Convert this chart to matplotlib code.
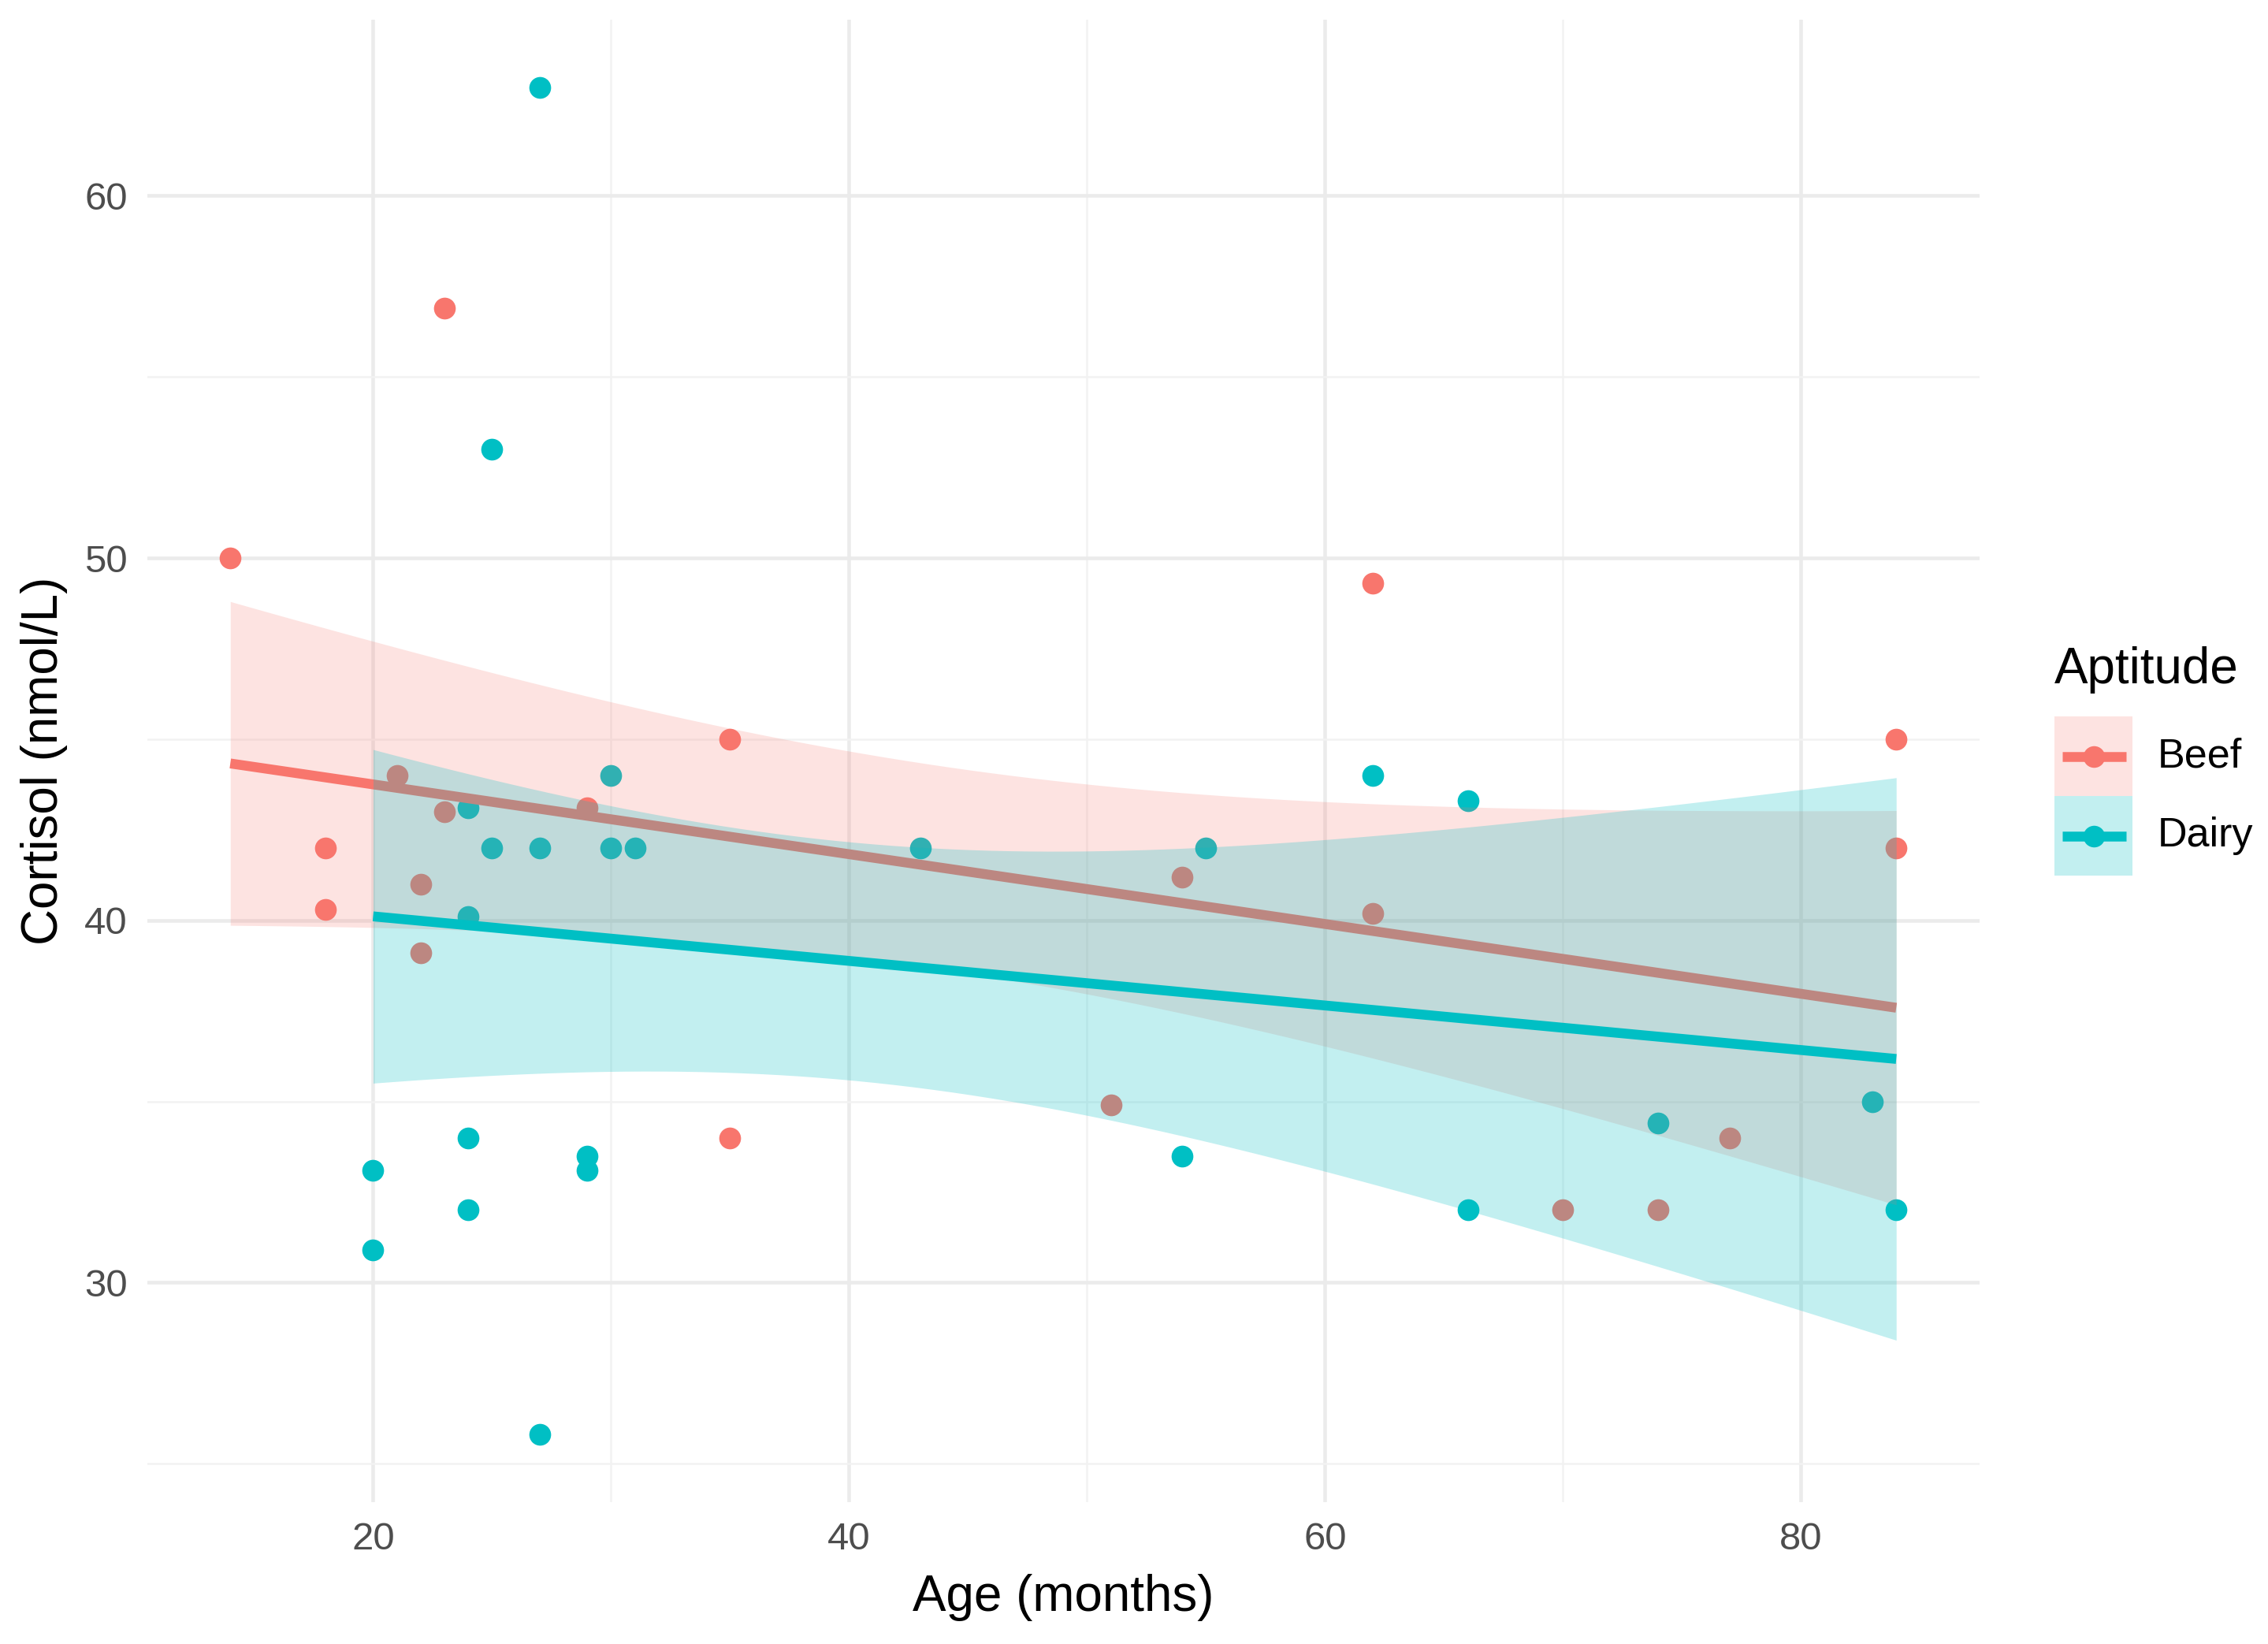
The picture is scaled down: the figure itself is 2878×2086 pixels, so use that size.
import numpy as np
import matplotlib
matplotlib.use("Agg")
import matplotlib.pyplot as plt
from matplotlib.patches import Rectangle
from matplotlib.lines import Line2D

plt.rcParams['font.family'] = ['Liberation Sans', 'DejaVu Sans']

# data
beef_age = [14, 23, 18, 18, 21, 23, 22, 22, 29, 35, 35, 51, 54, 62, 62, 70, 74, 77, 84, 84]
beef_cortisol = [50, 56.9, 42, 40.3, 44, 43, 41, 39.1, 43.1, 45, 34, 34.9, 41.2, 49.3, 40.2,
                 32, 32, 34, 45, 42]
dairy_age = [27, 25, 24, 25, 27, 30, 30, 31, 24, 20, 20, 24, 24, 29, 29, 27, 43, 55, 54, 62,
             66, 66, 74, 83, 84]
dairy_cortisol = [63, 53, 43.1, 42, 42, 44, 42, 42, 40.1, 33.1, 30.9, 34, 32, 33.5, 33.1, 25.8,
                  42, 42, 33.5, 44, 43.3, 32, 34.4, 35, 32]

groups = ["Beef", "Dairy"]
colors = {"Beef": "#F8766D", "Dairy": "#00BFC4"}
band_alpha = {"Beef": 0.2, "Dairy": 0.24}
x_ticks = [20, 40, 60, 80]
y_ticks = [30, 40, 50, 60]
# t quantiles (0.975) for n-2 degrees of freedom, like geom_smooth(method="lm")
t975 = {18: 2.1009, 23: 2.0687}


def lm_band(x, y, grid):
    x = np.asarray(x, float)
    y = np.asarray(y, float)
    n = len(x)
    b, a = np.polyfit(x, y, 1)
    resid = y - (a + b * x)
    s = np.sqrt(np.sum(resid ** 2) / (n - 2))
    sxx = np.sum((x - x.mean()) ** 2)
    se = s * np.sqrt(1.0 / n + (grid - x.mean()) ** 2 / sxx)
    fit = a + b * grid
    t = t975[n - 2]
    return fit, fit - t * se, fit + t * se


fig = plt.figure(figsize=(2879 / 300, 2086 / 300), dpi=300)
ax = fig.add_axes([0.0648, 0.0863, 0.8077, 0.9017])

# grid like theme_minimal
for v in [20, 40, 60, 80]:
    ax.axvline(v, color="#EBEBEB", lw=1.1, zorder=0)
for v in [30, 50, 70]:
    ax.axvline(v, color="#F2F2F2", lw=0.6, zorder=0)
for v in [30, 40, 50, 60]:
    ax.axhline(v, color="#EBEBEB", lw=1.1, zorder=0)
for v in [25, 35, 45, 55]:
    ax.axhline(v, color="#F2F2F2", lw=0.6, zorder=0)

ax.scatter(beef_age, beef_cortisol, s=44, color=colors["Beef"], lw=0, zorder=2)
ax.scatter(dairy_age, dairy_cortisol, s=44, color=colors["Dairy"], lw=0, zorder=2)

z = 3
for g, xs, ys in [("Beef", beef_age, beef_cortisol), ("Dairy", dairy_age, dairy_cortisol)]:
    grid = np.linspace(min(xs), max(xs), 80)
    fit, lo, hi = lm_band(xs, ys, grid)
    ax.fill_between(grid, lo, hi, color=colors[g], alpha=band_alpha[g], lw=0, zorder=z)
    ax.plot(grid, fit, color=colors[g], lw=3.0, solid_capstyle="butt", zorder=z + 1)
    z += 2

ax.set_xlim(10.5, 87.5)
ax.set_ylim(23.94, 64.86)
ax.set_xticks(x_ticks)
ax.set_yticks(y_ticks)
ax.tick_params(length=0, labelsize=11.8, labelcolor="#4D4D4D", pad=6)
for sp in ax.spines.values():
    sp.set_visible(False)
ax.set_xlabel("Age (months)", fontsize=15.3, labelpad=5)
ax.set_ylabel("Cortisol (nmol/L)", fontsize=15.3, labelpad=5)

# legend drawn by hand to mimic ggplot keys
fig.text(0.9055, 0.5925, "Aptitude", fontsize=15.3, va="center", ha="left")
key_y = {"Beef": 0.5158, "Dairy": 0.4674}
for g in groups:
    y0 = key_y[g]
    fig.add_artist(Rectangle((0.9055, y0), 0.0345, 0.0484, transform=fig.transFigure,
                             facecolor=colors[g], alpha=band_alpha[g], lw=0))
    yc = y0 + 0.0242
    fig.add_artist(Line2D([0.909, 0.937], [yc, yc], transform=fig.transFigure,
                          color=colors[g], lw=3.0, solid_capstyle="butt"))
    fig.add_artist(Line2D([0.923], [yc], transform=fig.transFigure, marker="o",
                          markersize=6.6, color=colors[g], markeredgewidth=0))
    fig.text(0.951, yc, g, fontsize=12.5, va="center", ha="left")

fig.savefig("out.png", dpi=300, facecolor="white")
